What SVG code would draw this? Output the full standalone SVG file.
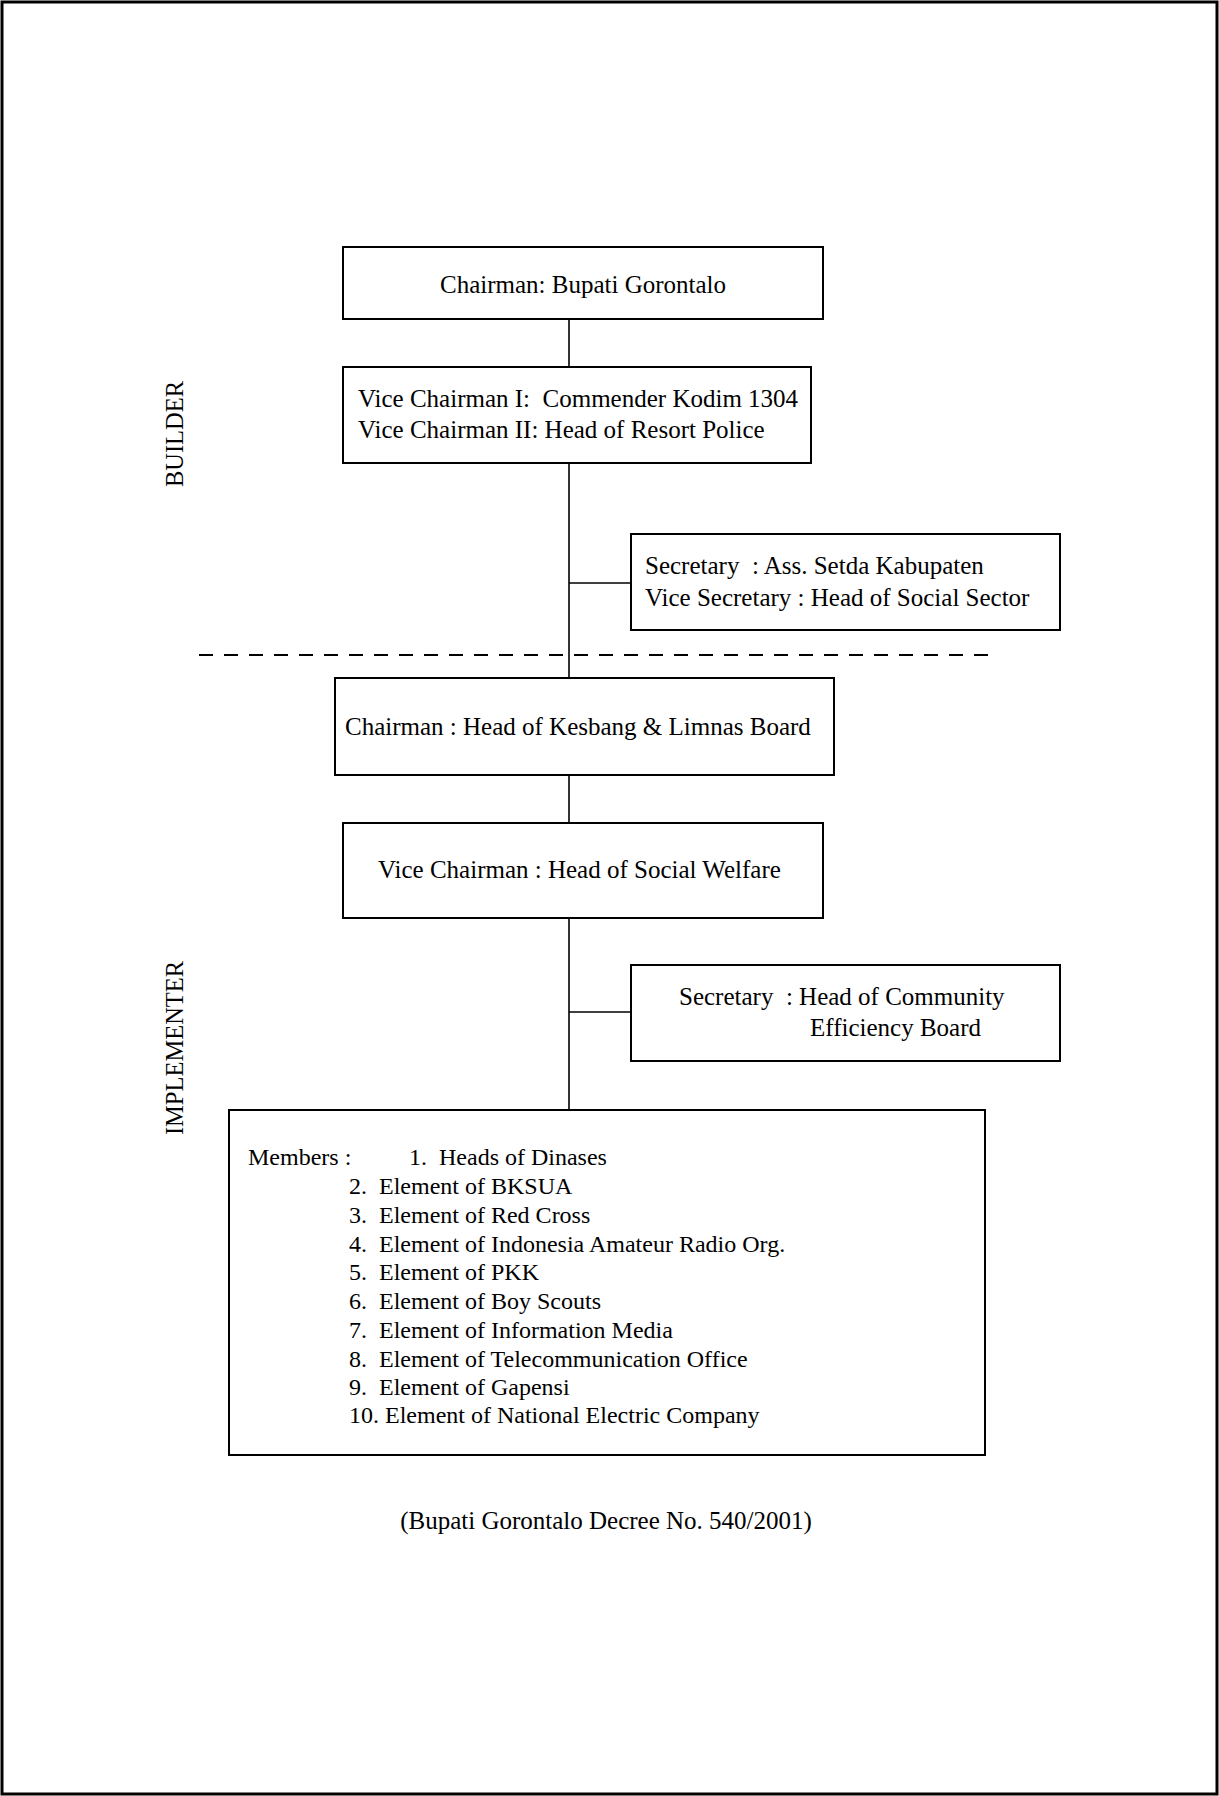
<svg xmlns="http://www.w3.org/2000/svg" width="1219" height="1796" viewBox="0 0 1219 1796">
<style>
  text { font-family: "Liberation Serif", "Times New Roman", serif; font-size: 25px; fill: #000; }
  .box { fill: #fff; stroke: #000; stroke-width: 2; }
  .conn { stroke: #000; stroke-width: 1.6; fill: none; }
  .list { font-size: 24px; }
  .side { font-size: 24.5px; }
</style>
<rect x="2" y="2" width="1215" height="1792" fill="#fff" stroke="#000" stroke-width="3"/>
<g id="connectors">
  <line class="conn" x1="569" y1="319" x2="569" y2="367"/>
  <line class="conn" x1="569" y1="463" x2="569" y2="678"/>
  <line class="conn" x1="569" y1="583" x2="631" y2="583"/>
  <line class="conn" x1="569" y1="775" x2="569" y2="823"/>
  <line class="conn" x1="569" y1="918" x2="569" y2="1110"/>
  <line class="conn" x1="569" y1="1012" x2="631" y2="1012"/>
</g>
<line id="divider" x1="199" y1="655" x2="990" y2="655" stroke="#000" stroke-width="2.2" stroke-dasharray="14 11"/>
<text id="label-builder" class="side" x="183" y="434" text-anchor="middle" transform="rotate(-90 183 434)">BUILDER</text>
<text id="label-implementer" class="side" x="183" y="1048" text-anchor="middle" transform="rotate(-90 183 1048)">IMPLEMENTER</text>
<g id="node-chairman">
  <rect class="box" x="343" y="247" width="480" height="72"/>
  <text x="583" y="293" text-anchor="middle">Chairman: Bupati Gorontalo</text>
</g>
<g id="node-vice-chairman">
  <rect class="box" x="343" y="367" width="468" height="96"/>
  <text x="358" y="407" xml:space="preserve">Vice Chairman I:  Commender Kodim 1304</text>
  <text x="358" y="438">Vice Chairman II: Head of Resort Police</text>
</g>
<g id="node-secretary">
  <rect class="box" x="631" y="534" width="429" height="96"/>
  <text x="645" y="574" xml:space="preserve">Secretary  : Ass. Setda Kabupaten</text>
  <text x="645" y="606">Vice Secretary : Head of Social Sector</text>
</g>
<g id="node-impl-chairman">
  <rect class="box" x="335" y="678" width="499" height="97"/>
  <text x="345" y="735">Chairman : Head of Kesbang &amp; Limnas Board</text>
</g>
<g id="node-impl-vice">
  <rect class="box" x="343" y="823" width="480" height="95"/>
  <text x="378" y="878">Vice Chairman : Head of Social Welfare</text>
</g>
<g id="node-impl-secretary">
  <rect class="box" x="631" y="965" width="429" height="96"/>
  <text x="679" y="1005" xml:space="preserve">Secretary  : Head of Community</text>
  <text x="810" y="1036">Efficiency Board</text>
</g>
<g id="node-members">
  <rect class="box" x="229" y="1110" width="756" height="345"/>
  <text class="list" x="248" y="1165">Members :</text>
  <text class="list" x="409" y="1165" xml:space="preserve">1.  Heads of Dinases</text>
  <text class="list" x="349" y="1194" xml:space="preserve">2.  Element of BKSUA</text>
  <text class="list" x="349" y="1223" xml:space="preserve">3.  Element of Red Cross</text>
  <text class="list" x="349" y="1252" xml:space="preserve">4.  Element of Indonesia Amateur Radio Org.</text>
  <text class="list" x="349" y="1280" xml:space="preserve">5.  Element of PKK</text>
  <text class="list" x="349" y="1309" xml:space="preserve">6.  Element of Boy Scouts</text>
  <text class="list" x="349" y="1338" xml:space="preserve">7.  Element of Information Media</text>
  <text class="list" x="349" y="1367" xml:space="preserve">8.  Element of Telecommunication Office</text>
  <text class="list" x="349" y="1395" xml:space="preserve">9.  Element of Gapensi</text>
  <text class="list" x="349" y="1423">10. Element of National Electric Company</text>
</g>
<text id="caption" x="606" y="1529" text-anchor="middle">(Bupati Gorontalo Decree No. 540/2001)</text>
</svg>
